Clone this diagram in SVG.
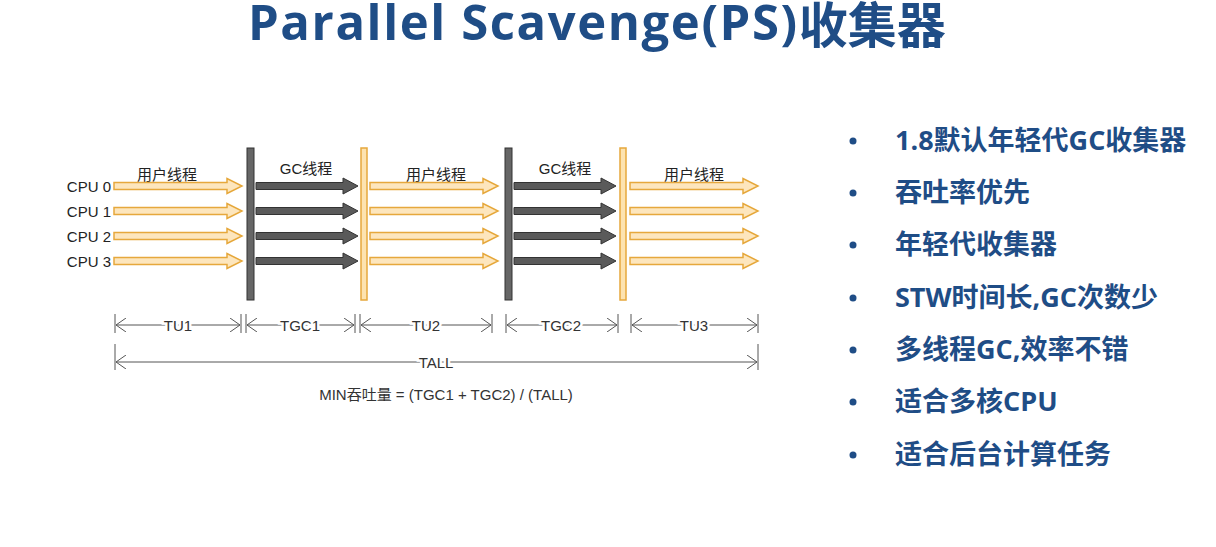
<svg xmlns="http://www.w3.org/2000/svg" width="1216" height="547" viewBox="0 0 1216 547">
  <style>
    .title { font-family: "Open Sans", "Noto Sans CJK SC", sans-serif; font-weight: 700; fill: #1f4d86; }
    .lbl { font-family: "Liberation Sans", "Noto Sans CJK SC", sans-serif; font-size: 15px; fill: #222; }
    .dim { font-family: "Liberation Sans", "Noto Sans CJK SC", sans-serif; font-size: 15px; fill: #333; text-anchor: middle; paint-order: stroke; stroke: #fff; stroke-width: 5px; }
    .dimline { stroke: #555; stroke-width: 1; fill: none; }
    .tick { stroke: #555; stroke-width: 1; }
    .bullet { font-family: "Open Sans", "Noto Sans CJK SC", sans-serif; font-weight: 700; font-size: 27px; fill: #1f4d86; }
    .ua { fill: #fde6bd; stroke: #e6a83c; stroke-width: 1.5; }
    .ga { fill: #5a5a5a; stroke: #333; stroke-width: 1; }
    .ybar { fill: #fde3b0; stroke: #e6a83c; stroke-width: 1.5; }
    .dbar { fill: #666; stroke: #333; stroke-width: 1; }
  </style>
  <defs>
    <path id="userArrow" d="M0,-3.5 H113 V-7.5 L128,0 L113,7.5 V3.5 H0 Z"/>
    <path id="gcArrow" d="M0,-3.5 H87 V-8 L102,0 L87,8 V3.5 H0 Z"/>
    <marker id="chev" viewBox="0 0 10 14" refX="10" refY="7" markerWidth="10" markerHeight="14" markerUnits="userSpaceOnUse" orient="auto-start-reverse">
      <path d="M0,0 L10,7 L0,14" fill="none" stroke="#555" stroke-width="1"/>
    </marker>
  </defs>

  <!-- heading -->
  <text class="title"><tspan x="248" y="40" font-size="49" letter-spacing="1.6">Parallel Scavenge(PS)</tspan><tspan y="43" font-size="49">收集器</tspan></text>

  <!-- CPU labels -->
  <g id="cpus" class="lbl" text-anchor="end">
    <text x="111" y="192">CPU 0</text>
    <text x="111" y="217">CPU 1</text>
    <text x="111" y="242">CPU 2</text>
    <text x="111" y="267">CPU 3</text>
  </g>

  <!-- phase labels -->
  <g id="phases" class="lbl" text-anchor="middle">
    <text x="167" y="180">用户线程</text>
    <text x="306" y="174">GC线程</text>
    <text x="436" y="180">用户线程</text>
    <text x="565" y="174">GC线程</text>
    <text x="694" y="180">用户线程</text>
  </g>

  <!-- safepoint bars -->
  <g id="bars">
    <rect class="dbar" x="247" y="148" width="7" height="152"/>
    <rect class="ybar" x="361" y="148" width="6" height="152"/>
    <rect class="dbar" x="505" y="148" width="7" height="152"/>
    <rect class="ybar" x="620" y="148" width="6" height="152"/>
  </g>

  <!-- thread arrows -->
  <g id="connectors">
    <use href="#userArrow" class="ua" x="114" y="186"/>
    <use href="#userArrow" class="ua" x="114" y="211"/>
    <use href="#userArrow" class="ua" x="114" y="236"/>
    <use href="#userArrow" class="ua" x="114" y="261"/>

    <use href="#gcArrow" class="ga" x="256" y="186"/>
    <use href="#gcArrow" class="ga" x="256" y="211"/>
    <use href="#gcArrow" class="ga" x="256" y="236"/>
    <use href="#gcArrow" class="ga" x="256" y="261"/>

    <use href="#userArrow" class="ua" x="370" y="186"/>
    <use href="#userArrow" class="ua" x="370" y="211"/>
    <use href="#userArrow" class="ua" x="370" y="236"/>
    <use href="#userArrow" class="ua" x="370" y="261"/>

    <use href="#gcArrow" class="ga" x="514" y="186"/>
    <use href="#gcArrow" class="ga" x="514" y="211"/>
    <use href="#gcArrow" class="ga" x="514" y="236"/>
    <use href="#gcArrow" class="ga" x="514" y="261"/>

    <use href="#userArrow" class="ua" x="630" y="186"/>
    <use href="#userArrow" class="ua" x="630" y="211"/>
    <use href="#userArrow" class="ua" x="630" y="236"/>
    <use href="#userArrow" class="ua" x="630" y="261"/>
  </g>

  <!-- interval dimensions -->
  <g id="dimensions">
    <g class="tick">
      <line x1="115" y1="314" x2="115" y2="333"/>
      <line x1="241" y1="314" x2="241" y2="333"/>
      <line x1="246" y1="314" x2="246" y2="333"/>
      <line x1="355" y1="314" x2="355" y2="333"/>
      <line x1="360" y1="314" x2="360" y2="333"/>
      <line x1="492" y1="314" x2="492" y2="333"/>
      <line x1="506" y1="314" x2="506" y2="333"/>
      <line x1="618" y1="314" x2="618" y2="333"/>
      <line x1="631" y1="314" x2="631" y2="333"/>
      <line x1="758" y1="314" x2="758" y2="333"/>
      <line x1="115" y1="344" x2="115" y2="370"/>
      <line x1="758" y1="344" x2="758" y2="370"/>
    </g>
    <line class="dimline" x1="116" y1="325" x2="240" y2="325" marker-start="url(#chev)" marker-end="url(#chev)"/>
    <line class="dimline" x1="247" y1="325" x2="354" y2="325" marker-start="url(#chev)" marker-end="url(#chev)"/>
    <line class="dimline" x1="361" y1="325" x2="491" y2="325" marker-start="url(#chev)" marker-end="url(#chev)"/>
    <line class="dimline" x1="507" y1="325" x2="617" y2="325" marker-start="url(#chev)" marker-end="url(#chev)"/>
    <line class="dimline" x1="632" y1="325" x2="757" y2="325" marker-start="url(#chev)" marker-end="url(#chev)"/>
    <line class="dimline" x1="116" y1="362" x2="757" y2="362" marker-start="url(#chev)" marker-end="url(#chev)"/>
    <text class="dim" x="178" y="331">TU1</text>
    <text class="dim" x="300" y="331">TGC1</text>
    <text class="dim" x="426" y="331">TU2</text>
    <text class="dim" x="561" y="331">TGC2</text>
    <text class="dim" x="694" y="331">TU3</text>
    <text class="dim" x="436" y="368">TALL</text>
    <text class="dim" x="446" y="400" font-size="15.5">MIN吞吐量 = (TGC1 + TGC2) / (TALL)</text>
  </g>

  <!-- feature list -->
  <g id="features">
    <g fill="#1f4d86">
      <circle cx="853" cy="141" r="3.5"/>
      <circle cx="853" cy="193" r="3.5"/>
      <circle cx="853" cy="245" r="3.5"/>
      <circle cx="853" cy="298" r="3.5"/>
      <circle cx="853" cy="350" r="3.5"/>
      <circle cx="853" cy="402" r="3.5"/>
      <circle cx="853" cy="455" r="3.5"/>
    </g>
    <text class="bullet" x="895" y="150">1.8默认年轻代GC收集器</text>
    <text class="bullet" x="895" y="202">吞吐率优先</text>
    <text class="bullet" x="895" y="254">年轻代收集器</text>
    <text class="bullet" x="895" y="307">STW时间长,GC次数少</text>
    <text class="bullet" x="895" y="359">多线程GC,效率不错</text>
    <text class="bullet" x="895" y="411">适合多核CPU</text>
    <text class="bullet" x="895" y="464">适合后台计算任务</text>
  </g>
</svg>
